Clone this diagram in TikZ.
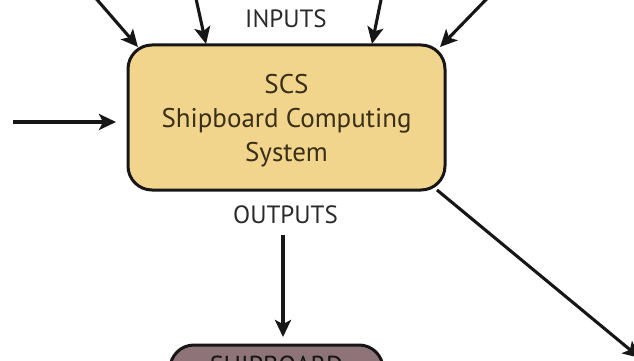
\documentclass[tikz,border=0pt]{standalone}
\usepackage{fontspec}
\setmainfont{PT Sans}
\usetikzlibrary{arrows.meta}
\definecolor{scsfill}{HTML}{F2D58C}
\definecolor{shipfill}{HTML}{8E7479}
\definecolor{inkline}{HTML}{161616}
\definecolor{txt}{HTML}{2A2A2A}
\definecolor{boxtxt}{HTML}{3A3018}
\tikzset{
  conn/.style={draw=inkline, line width=3.1pt, -{Stealth[length=17pt,width=16pt,inset=4pt]}},
  boxstyle/.style={draw=inkline, line width=3pt, rounded corners=24pt},
  lbl/.style={text=txt, font=\fontsize{25}{30}\selectfont, inner sep=0pt},
}
\begin{document}
\begin{tikzpicture}[x=1pt,y=-1pt]
\useasboundingbox (0,0) rectangle (634,361);
% main box
\draw[boxstyle, fill=scsfill] (128,45) rectangle (445,190);
\node[text=boxtxt, font=\fontsize{27}{34}\selectfont, align=center, inner sep=0pt] (scs) at (286.5,121) {SCS\\Shipboard Computing\\System};
\coordinate (boxN1) at (138,47);
\coordinate (boxN2) at (206,44);
\coordinate (boxN3) at (372,44);
\coordinate (boxN4) at (440,47);
\coordinate (boxW) at (116,122);
\coordinate (boxSE) at (437,190);
% labels
\node[lbl] (inputs) at (286,18.5) {INPUTS};
\node[lbl] (outputs) at (285.5,215) {OUTPUTS};
% bottom box
\draw[boxstyle, fill=shipfill] (170,345) rectangle (383,420);
\node[text=inkline, font=\fontsize{26}{30}\selectfont, anchor=north, inner sep=0pt] (ship) at (276.5,356) {SHIPBOARD};
\coordinate (shipN) at (283,337);
% free ends
\coordinate (s1) at (80,-20);
\coordinate (s2) at (193,-15);
\coordinate (s3) at (384,-15);
\coordinate (s4) at (505,-20);
\coordinate (s5) at (13,122);
\coordinate (s6) at (283,235);
\coordinate (e7) at (640,358);
% arrows
\draw[conn] (s1) -- (boxN1);
\draw[conn] (s2) -- (boxN2);
\draw[conn] (s3) -- (boxN3);
\draw[conn] (s4) -- (boxN4);
\draw[conn] (s5) -- (boxW);
\draw[conn] (s6) -- (shipN);
\draw[conn] (boxSE) -- (e7);
\end{tikzpicture}
\end{document}
